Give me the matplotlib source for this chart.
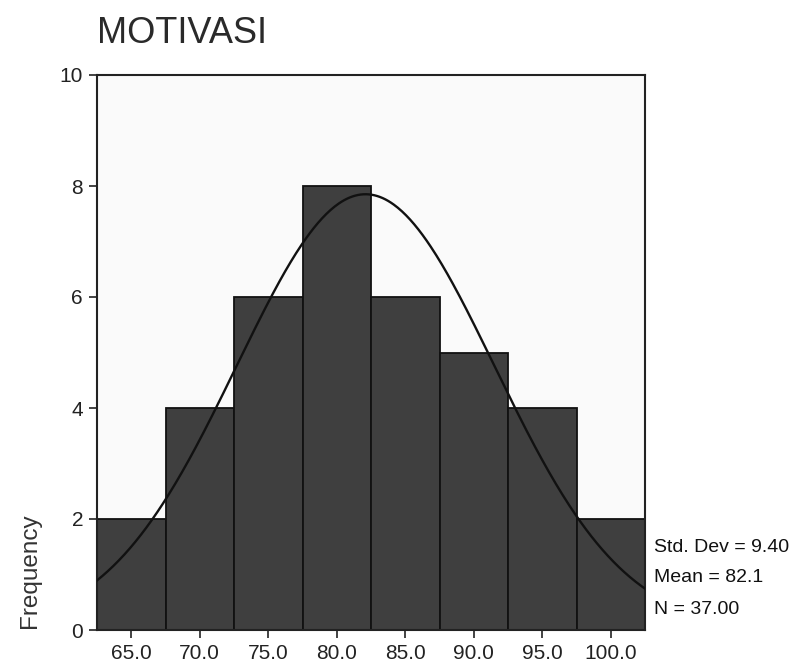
import numpy as np
import matplotlib
matplotlib.use("Agg")
import matplotlib.pyplot as plt

plt.rcParams['font.family'] = ['Liberation Sans', 'DejaVu Sans']

# Data
bin_centers = [65.0, 70.0, 75.0, 80.0, 85.0, 90.0, 95.0, 100.0]
frequencies = [2, 4, 6, 8, 6, 5, 4, 2]
tick_labels = ["65.0", "70.0", "75.0", "80.0", "85.0", "90.0", "95.0", "100.0"]
bin_width = 5.0
mean_val = 82.1
std_val = 9.40
n_val = 37
title = "MOTIVASI"
stats_lines = ["Std. Dev = 9.40", "Mean = 82.1", "N = 37.00"]

W, H = 796, 662
fig = plt.figure(figsize=(W / 100, H / 100), dpi=100)
fig.patch.set_facecolor("white")

left, right, top, bottom = 97, 645, 75, 630
ax = fig.add_axes([left / W, 1 - bottom / H, (right - left) / W, (bottom - top) / H])
ax.set_facecolor("#fafafa")

ax.bar(bin_centers, frequencies, width=bin_width, color="#3f3f3f",
       edgecolor="#111111", linewidth=1.3, zorder=2)

xlo = bin_centers[0] - bin_width / 2
xhi = bin_centers[-1] + bin_width / 2
xs = np.linspace(xlo, xhi, 400)
ys = n_val * bin_width / (std_val * np.sqrt(2 * np.pi)) * np.exp(-0.5 * ((xs - mean_val) / std_val) ** 2)
ax.plot(xs, ys, color="#111111", linewidth=1.7, zorder=3)

ax.set_xlim(xlo, xhi)
ax.set_ylim(0, 10)
ax.set_xticks(bin_centers)
ax.set_xticklabels(tick_labels)
ax.set_yticks([0, 2, 4, 6, 8, 10])
ax.tick_params(axis="both", direction="out", length=6, width=1.2, labelsize=15,
               colors="#222222", pad=4)
for s in ax.spines.values():
    s.set_linewidth(1.5)
    s.set_color("#222222")

fig.text(left / W, 1 - 43 / H, title, fontsize=26, ha="left", va="baseline", color="#2a2a2a")
fig.text(30 / W, 1 - 571 / H, "Frequency", fontsize=17.5, rotation=90,
         ha="center", va="center", color="#333333")

for txt, yc in zip(stats_lines, [547, 578, 610]):
    fig.text(654 / W, 1 - yc / H, txt, fontsize=14, ha="left", va="center", color="#111111")

fig.savefig("out.png", dpi=100, facecolor=fig.get_facecolor())
